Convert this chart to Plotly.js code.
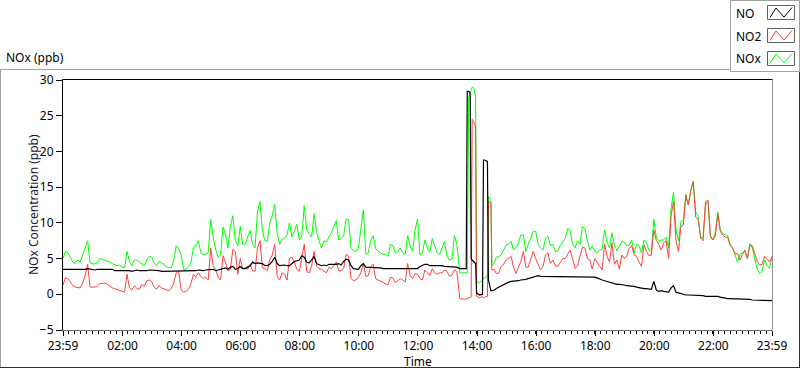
<!DOCTYPE html>
<html>
<head>
<meta charset="utf-8">
<script src="https://cdn.plot.ly/plotly-3.0.1.min.js"></script>
<style>
html,body{margin:0;padding:0;background:#fff;}
#chart{width:800px;height:369px;}
</style>
</head>
<body>
<div id="chart"></div>
<script>
// minutes elapsed since 23:59 of the previous day (readings on the 10-minute marks + spike detail)
const minutes = [0,10,20,30,40,50,60,70,80,90,100,110,120,130,140,150,160,170,180,190,200,210,220,230,240,250,260,270,280,290,300,310,320,330,340,350,360,370,380,390,400,410,420,430,440,450,460,470,480,490,500,510,520,530,540,550,560,570,580,590,600,610,620,630,640,650,660,670,680,690,700,710,720,730,740,750,760,770,780,790,800,
806,816,819,821,824,827,829,831,835,838,840,846,852,854,856,862,864,869,871,876,
880,890,900,910,920,930,940,950,960,970,980,990,1000,1010,1020,1030,1040,1050,1060,1070,1080,1090,1100,1110,1120,1130,1140,1150,1160,1170,1180,1190,1200,1210,1220,1230,1240,1250,1260,1270,1280,1290,1300,1310,1320,1330,1340,1350,1360,1370,1380,1390,1400,1410,1420,1430,1440];

const noValues = [3.5,3.5,3.4,3.5,3.5,3.6,3.4,3.5,3.4,3.4,3.5,3.3,3.3,3.4,3.2,3.4,3.3,3.3,3.4,3.3,3.2,3.3,3.2,3.2,3.3,3.2,3.3,3.3,3.3,3.4,3.5,3.3,3.6,3.7,3.8,3.5,3.9,
3.6,4.0,4.3,4.4,4.0,4.2,5.2,4.0,4.1,4.0,4.6,4.8,5.2,4.4,5.3,4.1,4.1,4.2,4.1,4.3,4.6,4.8,3.6,3.5,4.3,3.8,3.7,3.7,3.6,3.6,3.5,3.5,3.5,3.6,3.5,
3.6,4.1,4.2,4.0,4.0,4.0,3.9,3.9,3.8,
3.6,3.6,3.6,28.4,28.4,28.2,5.0,4.8,4.5,4.3,0.2,-0.1,0.0,18.8,18.8,18.6,2.0,0.5,0.5,0.6,
0.8,1.2,1.6,1.8,1.9,2.0,2.1,2.3,2.5,2.5,2.5,2.5,2.4,2.4,2.5,2.4,2.4,2.5,2.4,2.5,
2.4,2.1,1.9,1.6,1.5,1.4,1.3,1.2,1.1,0.9,0.8,0.7,1.8,0.4,0.4,0.3,1.2,0.2,-0.1,-0.1,-0.1,-0.2,-0.2,-0.3,-0.3,-0.3,-0.5,-0.6,-0.6,-0.7,-0.7,-0.7,-0.8,-0.8,-0.8,-0.9,-0.9];

const no2Values = [1.3,2.2,1.2,1.0,1.6,4.2,1.0,1.2,1.5,1.4,0.9,0.7,0.4,2.8,0.6,0.8,1.4,1.9,1.8,0.7,0.9,0.6,0.8,3.0,0.6,0.4,1.5,2.4,2.5,2.4,6.5,3.5,2.0,4.5,3.5,6.0,5.0,
3.7,4.2,3.2,7.5,3.6,4.8,7.0,2.0,2.8,5.0,4.5,3.2,7.0,3.0,6.0,3.6,3.2,3.8,4.0,3.3,3.6,5.3,1.9,2.4,4.3,2.6,4.2,2.0,1.6,1.3,2.3,1.9,2.0,4.3,2.2,
2.8,2.0,3.0,3.6,2.8,3.0,3.2,2.7,3.2,
-0.6,-0.7,-0.6,-0.6,-0.5,-0.5,-0.4,24.5,24.0,23.5,-0.3,-0.5,-0.3,-0.5,-0.4,-0.3,13.0,12.8,3.4,3.5,
2.9,3.9,4.8,5.3,2.9,4.6,3.8,5.0,5.0,3.4,5.5,4.3,4.0,4.5,5.0,6.2,3.6,5.2,6.5,4.8,
5.0,4.0,7.0,4.5,4.2,3.5,5.0,6.5,5.5,4.5,6.9,5.4,9.0,7.0,7.2,5.0,13.0,6.0,9.7,12.5,15.8,10.5,7.5,13.2,7.6,11.3,8.3,8.0,6.5,5.7,5.6,5.0,6.8,4.6,4.2,5.0,5.3];

const noxValues = [5.0,5.8,4.5,4.8,5.5,7.5,4.3,4.6,4.9,4.7,4.3,4.0,3.8,6.0,4.0,4.8,4.2,4.8,5.2,4.0,4.4,3.8,3.7,6.8,5.5,3.5,4.5,6.8,5.8,5.6,10.5,6.3,5.5,8.5,9.5,7.5,9.5,
7.0,8.9,6.5,13.0,7.5,10.0,12.6,7.0,7.8,10.0,9.0,7.6,12.4,8.5,11.3,7.5,7.5,8.0,9.5,7.6,8.2,10.5,6.1,6.5,11.8,5.8,8.2,6.0,5.6,5.3,6.8,6.0,5.8,8.2,6.0,
10.5,5.8,6.5,7.8,5.8,6.6,5.3,4.9,7.0,
3.0,3.0,3.0,3.0,27.5,28.3,28.6,29.0,28.8,27.5,1.8,1.6,2.0,2.2,2.3,2.5,13.7,13.2,4.0,4.4,
5.2,5.5,6.9,7.4,6.5,8.3,6.0,8.0,8.8,6.5,7.8,6.8,6.0,6.8,7.8,9.0,6.5,7.0,9.2,6.2,
6.0,6.2,9.0,6.5,6.8,6.8,7.3,6.8,5.8,6.8,7.6,6.2,10.5,7.4,7.6,6.5,14.3,7.5,10.4,12.5,15.8,11.0,8.0,13.0,7.6,11.5,8.5,8.2,6.5,4.5,5.8,5.0,6.5,3.5,3.3,4.0,5.3];

// readings between the 10-minute marks
const midMinutes = [5,15,25,35,45,55,65,75,85,95,105,115,125,135,145,155,165,175,185,195,205,215,225,235,245,255,265,275,285,295,305,315,325,335,345,355,365,375,385,395,405,415,425,435,445,455,465,475,485,495,505,515,525,535,545,555,565,575,585,595,605,615,625,635,645,655,665,675,685,695,705,715,725,735,745,755,765,775,785,795,
885,895,905,915,925,935,945,955,965,975,985,995,1005,1015,1025,1035,1045,1055,1065,1075,1085,1095,1105,1115,1125,1135,1145,1155,1165,1175,1185,1195,1205,1215,1225,1235,1245,1255,1265,1275,1285,1295,1305,1315,1325,1335,1345,1355,1365,1375,1385,1395,1405,1415,1425,1435];

const noMid = [3.5,3.4,3.5,3.4,3.5,3.5,3.4,3.5,3.4,3.4,3.3,3.4,3.3,3.3,3.3,3.3,3.2,3.4,3.3,3.3,3.2,3.3,3.2,3.2,3.2,3.3,3.3,3.4,3.3,3.4,3.5,3.4,3.6,3.5,3.9,3.6,
3.6,
3.8,4.5,4.4,4.3,4.0,4.6,4.3,4.1,4.0,4.3,4.7,5.4,4.5,4.8,4.3,4.0,4.0,4.2,4.2,4.1,4.9,4.0,3.5,4.0,3.8,3.7,3.7,3.7,3.6,3.5,3.6,3.5,3.5,3.6,
3.6,3.9,4.2,4.0,4.0,4.1,3.9,3.9,3.8,
1.0,1.4,1.7,1.8,1.9,2.0,2.2,2.4,2.6,2.5,2.5,2.4,2.4,2.5,2.4,2.5,2.4,2.5,2.4,2.5,
2.3,2.0,1.8,1.6,1.4,1.4,1.2,1.1,1.0,0.9,0.8,0.7,0.6,0.5,0.4,0.9,0.3,0.0,-0.1,-0.1,-0.2,-0.2,-0.3,-0.3,-0.2,-0.4,-0.5,-0.6,-0.6,-0.7,-0.7,-0.7,-0.8,-0.8,-0.9,-0.9];

const no2Mid = [2.3,1.6,1.0,0.9,2.6,1.0,1.0,1.5,1.6,1.1,0.8,0.6,0.3,0.9,1.2,0.7,1.1,2.0,1.0,1.2,0.8,0.5,1.6,3.2,0.3,0.7,2.8,3.0,2.2,2.0,4.0,2.4,5.4,3.3,6.3,2.8,
3.6,
3.5,3.3,6.5,3.7,3.3,5.5,2.5,3.0,2.0,5.2,3.5,5.0,3.2,4.0,3.9,3.5,3.0,3.6,4.5,3.3,5.6,2.2,2.0,3.0,2.5,3.9,2.2,1.8,1.4,2.4,1.6,2.2,1.7,2.6,
2.9,2.2,3.4,2.6,3.0,3.0,3.4,2.5,3.4,
3.0,4.2,5.0,3.8,3.8,6.0,3.8,6.0,4.3,3.9,5.8,4.8,3.9,5.0,5.6,5.0,4.0,6.6,5.0,3.5,
4.4,3.4,5.3,7.2,4.8,5.5,5.3,6.8,5.3,3.9,6.0,5.5,7.5,6.2,7.5,11.0,7.5,9.5,13.8,14.5,10.8,8.0,13.0,8.2,8.2,8.8,8.0,6.8,5.7,4.8,6.2,6.9,5.6,4.1,5.3,4.5];

const noxMid = [6.0,5.2,4.3,4.5,6.5,4.4,4.2,5.0,4.8,4.5,4.2,4.1,3.7,4.6,4.8,4.5,4.0,5.3,4.4,4.6,4.2,3.8,4.8,6.3,3.5,3.9,6.6,7.5,5.6,5.8,8.0,5.2,9.4,6.5,11.0,6.8,
7.0,
8.0,7.0,11.5,8.9,7.4,11.0,8.5,7.7,8.3,8.0,9.8,8.2,9.0,8.0,8.8,6.5,7.3,8.6,10.3,7.8,10.5,6.5,6.0,9.0,5.6,7.5,6.4,5.8,5.6,7.0,5.8,6.5,5.6,6.8,
9.0,5.5,7.6,5.9,6.8,5.6,7.4,4.8,8.2,
5.3,6.2,7.0,6.2,7.2,8.3,7.0,8.8,7.0,6.2,8.1,7.0,6.0,7.4,9.2,7.0,7.5,9.5,7.5,6.8,
5.8,6.3,7.2,8.6,6.1,7.4,6.8,7.6,7.0,5.8,7.2,6.0,8.0,7.6,8.0,12.0,9.0,10.2,14.0,14.5,11.5,7.8,12.5,8.0,8.7,9.0,8.4,7.0,5.5,5.6,6.0,7.1,4.8,2.9,4.8,3.6];

const tickMinutes = [0,121,241,361,481,601,721,841,961,1081,1201,1321,1440];
const tickLabels = ["23:59","02:00","04:00","06:00","08:00","10:00","12:00","14:00","16:00","18:00","20:00","22:00","23:59"];
const yTicks = [-5,0,5,10,15,20,25,30];

const seriesNames = ["NO","NO2","NOx"];
const seriesColors = ["#000000","#ff4040","#00ff00"];

function merged(t1, v1, t2, v2){
  const pts = t1.map((t,i)=>[t, v1[i]]).concat(t2.map((t,i)=>[t, v2[i]]));
  pts.sort((a,b)=>a[0]-b[0]);
  return {x: pts.map(p=>p[0]), y: pts.map(p=>p[1])};
}
const noS = merged(minutes, noValues, midMinutes, noMid);
const no2S = merged(minutes, no2Values, midMinutes, no2Mid);
const noxS = merged(minutes, noxValues, midMinutes, noxMid);

// pixel -> paper helpers (plot area 63..772 x 80..330)
const L = 63, R = 772, T = 80, B = 330;
const px = x => (x - L) / (R - L);
const py = y => (B - y) / (B - T);

const FONT = "Noto Sans, Open Sans, sans-serif";

const traces = [
  {x: noxS.x, y: noxS.y, name: seriesNames[2], type: 'scatter', mode: 'lines', line: {color: seriesColors[2], width: 1}},
  {x: no2S.x, y: no2S.y, name: seriesNames[1], type: 'scatter', mode: 'lines', line: {color: seriesColors[1], width: 1}},
  {x: noS.x, y: noS.y, name: seriesNames[0], type: 'scatter', mode: 'lines', line: {color: seriesColors[0], width: 1.2}}
];

const shapes = [];
function line(x0,y0,x1,y1,color){
  shapes.push({type:'line', xref:'paper', yref:'paper', x0:px(x0), y0:py(y0), x1:px(x1), y1:py(y1), line:{color:color, width:1}});
}
// outer panel frame
line(0,69.5,731,69.5,'#a0a0a0');
line(0.5,69.5,0.5,368,'#a0a0a0');
line(0,367.5,800,367.5,'#303030');
line(799.5,72,799.5,368,'#303030');
// plot frame top and right
line(62,79.5,772.5,79.5,'#000000');
line(772.5,79.5,772.5,330.5,'#909090');
// legend panel
shapes.push({type:'rect', xref:'paper', yref:'paper', x0:px(730.5), y0:py(0.5), x1:px(799.5), y1:py(71.5), line:{color:'#a0a0a0', width:1}, fillcolor:'#ffffff'});
const swatchTops = [5.5, 28.5, 51.5];
swatchTops.forEach((t, k) => {
  shapes.push({type:'rect', xref:'paper', yref:'paper', x0:px(767.5), y0:py(t), x1:px(794.5), y1:py(t+14), line:{color:'#606060', width:1}, fillcolor:'#ffffff'});
  const pts = [[770,t+12],[776,t+2.5],[784,t+11.5],[792,t+2]];
  const path = 'M ' + pts.map(p => px(p[0]) + ',' + py(p[1])).join(' L ');
  shapes.push({type:'path', xref:'paper', yref:'paper', path: path, line:{color: seriesColors[k], width:1}});
});

const annotations = [
  {text:'NOx (ppb)', xref:'paper', yref:'paper', x:px(4), y:py(58), xanchor:'left', yanchor:'middle', showarrow:false, font:{family:FONT, size:12, color:'#000'}},
  {text:'NOx Concentration (ppb)', xref:'paper', yref:'paper', x:px(33), y:py(205), xanchor:'center', yanchor:'middle', textangle:-90, showarrow:false, font:{family:FONT, size:12, color:'#1a1a3a'}},
  {text:'Time', xref:'paper', yref:'paper', x:px(402), y:py(361), xanchor:'left', yanchor:'middle', showarrow:false, font:{family:FONT, size:12, color:'#000'}}
];
seriesNames.forEach((n, k) => {
  annotations.push({text:n, xref:'paper', yref:'paper', x:px(734), y:py(13 + 23*k), xanchor:'left', yanchor:'middle', showarrow:false, font:{family:FONT, size:12, color:'#000'}});
});

const layout = {
  width: 800, height: 369,
  margin: {l: L, r: 800 - R, t: T, b: 369 - B, pad: 0},
  paper_bgcolor: '#ffffff', plot_bgcolor: '#ffffff',
  showlegend: false,
  font: {family: FONT, size: 12, color: '#000'},
  xaxis: {
    range: [0, 1440], tickmode: 'array', tickvals: tickMinutes, ticktext: tickLabels,
    showgrid: false, zeroline: false, showline: true, linecolor: '#707070', linewidth: 1,
    ticks: 'outside', ticklen: 5, tickcolor: '#000', tickwidth: 1,
    tickfont: {family: FONT, size: 12, color: '#000'},
    minor: {dtick: 12, tick0: 0, ticks: 'outside', ticklen: 3, tickcolor: '#000', tickwidth: 1, showgrid: false},
    fixedrange: true
  },
  yaxis: {
    range: [-5, 30], tickmode: 'array', tickvals: yTicks,
    showgrid: false, zeroline: false, showline: true, linecolor: '#000', linewidth: 1,
    ticks: 'outside', ticklen: 6, tickcolor: '#000', tickwidth: 1,
    tickfont: {family: FONT, size: 12, color: '#000'},
    fixedrange: true
  },
  shapes: shapes,
  annotations: annotations
};

Plotly.newPlot('chart', traces, layout, {displayModeBar: false, staticPlot: true});
</script>
</body>
</html>
